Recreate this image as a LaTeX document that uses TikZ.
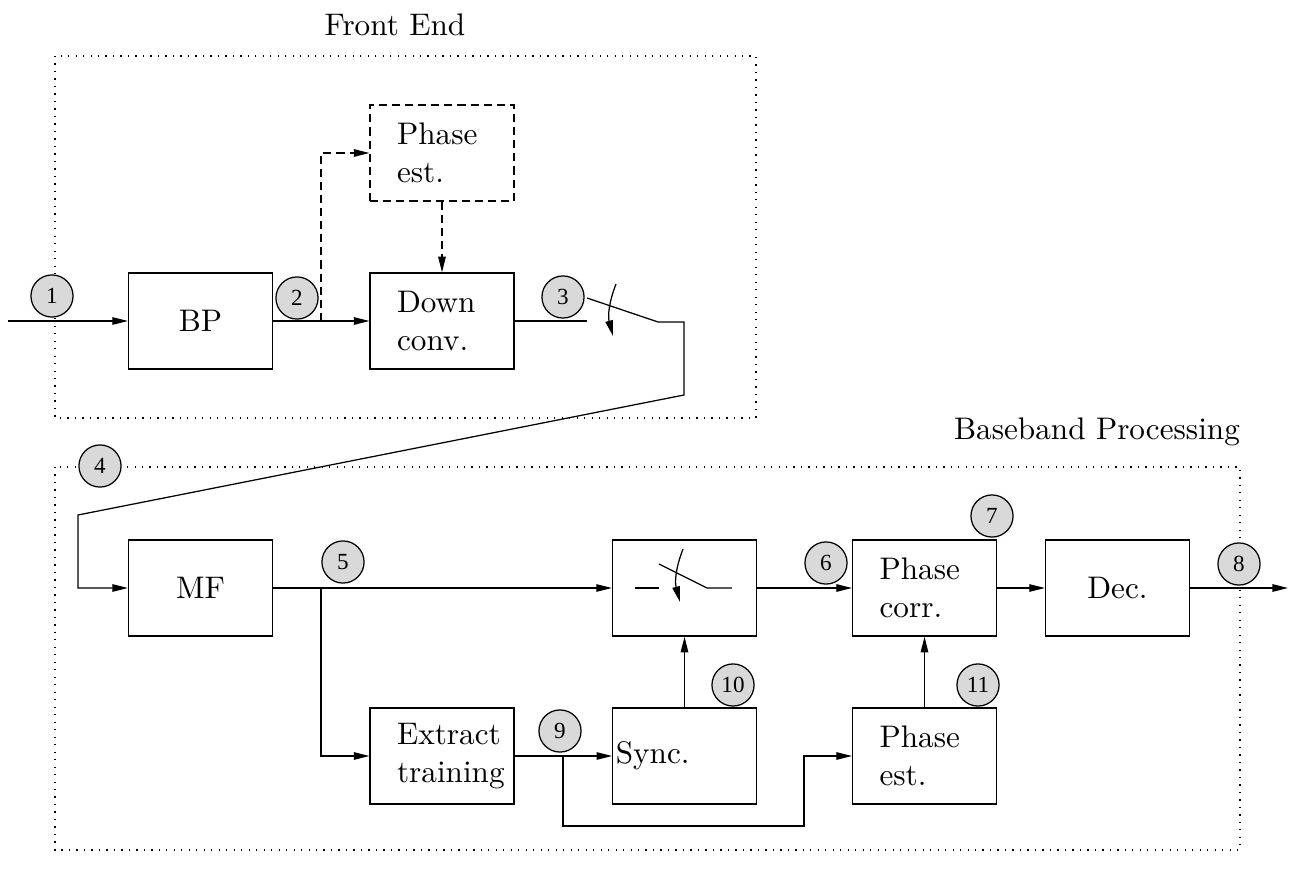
\documentclass[tikz,border=0pt]{standalone}
\usepackage{amsmath}
\usepackage{fontspec}
\usepackage{tikz}
\usetikzlibrary{arrows.meta}
\newfontfamily\numfont{Liberation Serif}

\begin{document}
\begin{tikzpicture}[x=0.3205pt,y=-0.3205pt,
  >={Triangle[length=5pt,width=2.4pt]},
  blk/.style={draw,minimum width=46.15pt,minimum height=30.8pt,inner sep=0pt},
  lblk/.style={draw,minimum height=30.8pt,align=flush left,text width=28.8pt,inner xsep=8.65pt,inner ysep=0pt},
  num/.style={circle,draw,fill=gray!30,minimum size=13.5pt,inner sep=0pt,font=\numfont\fontsize{7.4}{8}\selectfont},
  dashln/.style={dash pattern=on 2.6pt off 1.6pt}]
\useasboundingbox (0,0) rectangle (1293,880);
\draw[dotted] (55,56) rectangle (756,418);
\draw[dotted] (55,467) rectangle (1240,850);
\node at (395,25) {Front End};
\node at (1097,432) {Baseband Processing};

\node[blk] (bp) at (200.5,321) {BP};
\node[lblk] (down) at (442,321) {Down\\conv.};
\node[lblk,dashln] (pest1) at (442,153) {Phase\\est.};
\node[blk] (mf) at (200.5,588) {MF};
\node[blk] (sw) at (684.5,588) {};
\node[lblk] (pcorr) at (924.5,588) {Phase\\corr.};
\node[blk] (dec) at (1117.5,588) {Dec.};
\node[lblk] (extr) at (442,756) {Extract\\training};
\node[lblk,text width=44pt,inner xsep=1pt] (sync) at (684.5,756) {Sync.};
\node[lblk] (pest2) at (924.5,756) {Phase\\est.};

\node[num] (c1) at (52,296) {1};
\node[num] (c2) at (297,298) {2};
\node[num] (c3) at (563,297) {3};
\node[num] (c4) at (100,466) {4};
\node[num] (c5) at (343,562) {5};
\node[num] (c6) at (826,563) {6};
\node[num] (c7) at (992,516) {7};
\node[num] (c8) at (1239,564) {8};
\node[num] (c9) at (560,731) {9};
\node[num] (c10) at (733,685) {10};
\node[num] (c11) at (978,685) {11};

\coordinate (in) at (8,321);
\coordinate (tap) at (321,321);
\coordinate (s1a) at (587,321);
\coordinate (s1b) at (587,298);
\coordinate (s1c) at (658,322);
\coordinate (k1) at (684,395);
\coordinate (k2) at (78,515);
\coordinate (r1a) at (616,284);
\coordinate (r1b) at (613,336);
\draw[->] (in) -- (bp);
\draw[->] (bp) -- (down);
\draw[->,dashln] (tap) |- (pest1);
\draw[->,dashln] (pest1) -- (down);
\draw (down) -- (s1a);
\draw[->] (s1b) -- (s1c) -| (k1) -- (k2) |- (mf);
\draw[->] (r1a) to[bend right=18] (r1b);

\coordinate (j1) at (321,588);
\coordinate (j2) at (563,756);
\coordinate (j3) at (804,826);
\coordinate (out) at (1288,588);
\draw[->] (mf) -- (sw);
\draw[->] (j1) |- (extr);
\draw[->] (sw) -- (pcorr);
\draw[->] (pcorr) -- (dec);
\draw[->] (dec) -- (out);
\draw[->] (extr) -- (sync);
\draw[->] (j2) |- (j3) |- (pest2);
\draw[->] (sync) -- (sw);
\draw[->] (pest2) -- (pcorr);

\coordinate (s2a) at (635,588);
\coordinate (s2b) at (659,588);
\coordinate (s2c) at (659,564);
\coordinate (s2d) at (707,588);
\coordinate (s2e) at (732,588);
\coordinate (r2a) at (683,549);
\coordinate (r2b) at (680,602);
\draw (s2a) -- (s2b);
\draw (s2c) -- (s2d) -- (s2e);
\draw[->] (r2a) to[bend right=18] (r2b);
\end{tikzpicture}
\end{document}
